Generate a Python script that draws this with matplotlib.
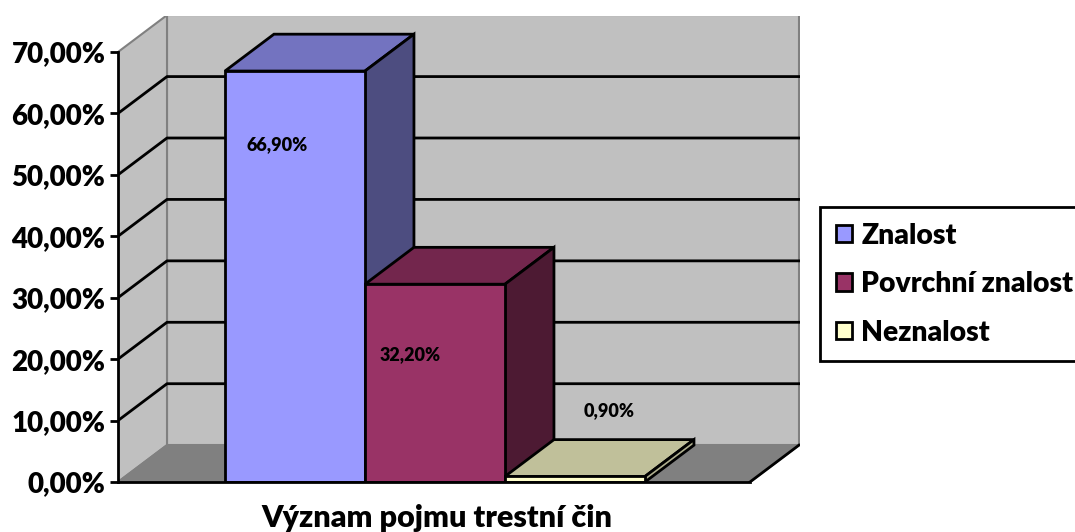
import matplotlib.pyplot as plt
from matplotlib.patches import Polygon, Patch

# data
categories = ["Znalost", "Povrchní znalost", "Neznalost"]
values = [66.9, 32.2, 0.9]
value_labels = ["66,90%", "32,20%", "0,90%"]
y_ticks = [0, 10, 20, 30, 40, 50, 60, 70]
x_title = "Význam pojmu trestní čin"

# colours: front, top, side
front_cols = ["#9999FF", "#993366", "#FFFFCC"]
top_cols = ["#7373C0", "#73264D", "#C0C09A"]
side_cols = ["#4D4D80", "#4D1A33", "#B0B090"]

plt.rcParams['font.family'] = ['Lato', 'DejaVu Sans']
BOLD = 800

W, H = 1075, 532
fig = plt.figure(figsize=(W / 100, H / 100), dpi=100)

# axes placed so that the front y-axis sits at x=118 px, 0 % at y=482 px
px_x, px_y = 140.0, 430.0 / 70.0
ax_l, ax_b, ax_w, ax_h = 118, 50, 682, 466
ax = fig.add_axes([ax_l / W, ax_b / H, ax_w / W, ax_h / H])
x_left = -0.764
ax.set_xlim(x_left, x_left + ax_w / px_x)
ax.set_ylim(0, ax_h / px_y)

x_right = 3.75
dx, dy = 0.35, 6.0
top = 70

# walls and floor
ax.add_patch(Polygon([(x_left + dx, dy), (x_right + dx, dy),
                      (x_right + dx, top + dy), (x_left + dx, top + dy)],
                     closed=True, fc="#C0C0C0", ec="#808080", lw=1.5, zorder=1))
ax.add_patch(Polygon([(x_left, 0), (x_left + dx, dy),
                      (x_left + dx, top + dy), (x_left, top)],
                     closed=True, fc="#C0C0C0", ec="#808080", lw=1.5, zorder=1))
ax.add_patch(Polygon([(x_left, 0), (x_right, 0),
                      (x_right + dx, dy), (x_left + dx, dy)],
                     closed=True, fc="#808080", ec="#808080", lw=1.5, zorder=1))
ax.plot([x_right, x_right + dx], [0, dy], color="black", lw=2, zorder=2)

# gridlines
for v in y_ticks[1:-1]:
    ax.plot([x_left, x_left + dx, x_right + dx], [v, v + dy, v + dy],
            color="black", lw=2, zorder=2)

# bars, each later one drawn over the side of the previous one
for i, v in enumerate(values):
    x0, x1 = i, i + 1
    z = 3 + i
    ax.add_patch(Polygon([(x0, v), (x1, v), (x1 + dx, v + dy), (x0 + dx, v + dy)],
                         closed=True, fc=top_cols[i], ec="black", lw=2, zorder=z))
    ax.add_patch(Polygon([(x1, 0), (x1 + dx, dy), (x1 + dx, v + dy), (x1, v)],
                         closed=True, fc=side_cols[i], ec="black", lw=2, zorder=z))
    ax.add_patch(Polygon([(x0, 0), (x1, 0), (x1, v), (x0, v)],
                         closed=True, fc=front_cols[i], ec="black", lw=2, zorder=z))

ax.plot([x_left, x_right], [0, 0], color="black", lw=2, zorder=7, clip_on=False)

# value labels
label_pos = [(0.37, 54.9), (1.32, 20.7), (2.743, 11.7)]
for (lx, ly), txt in zip(label_pos, value_labels):
    ax.text(lx, ly, txt, ha="center", va="center", fontsize=13,
            fontweight=BOLD, zorder=8)

# axes styling
for s in ["top", "right", "bottom"]:
    ax.spines[s].set_visible(False)
ax.spines["left"].set_bounds(0, 70)
ax.spines["left"].set_linewidth(2)
ax.spines["left"].set_zorder(7)
ax.set_xticks([])
ax.set_yticks(y_ticks)
ax.set_yticklabels(["{:.2f}%".format(t).replace(".", ",") for t in y_ticks])
ax.tick_params(axis="y", length=6, width=2, pad=3, labelsize=20)
for lab in ax.get_yticklabels():
    lab.set_fontweight(BOLD)
ax.patch.set_visible(False)

fig.text(437 / W, 1 - 518 / H, x_title, ha="center", va="center",
         fontsize=22, fontweight=BOLD)

# legend (frame runs off the right edge, as in the original)
handles = [Patch(fc=c, ec="black", lw=2) for c in front_cols]
leg = fig.legend(handles, categories, loc="upper left",
                 bbox_to_anchor=(820 / W, 1 - 207 / H), borderaxespad=0,
                 prop={"weight": BOLD, "size": 20.3},
                 handlelength=0.57, handleheight=0.57, handletextpad=0.35,
                 labelspacing=0.8, borderpad=0.55,
                 fancybox=False, framealpha=1, edgecolor="black")
leg.get_frame().set_linewidth(2)

fig.savefig("out.png", dpi=100)
